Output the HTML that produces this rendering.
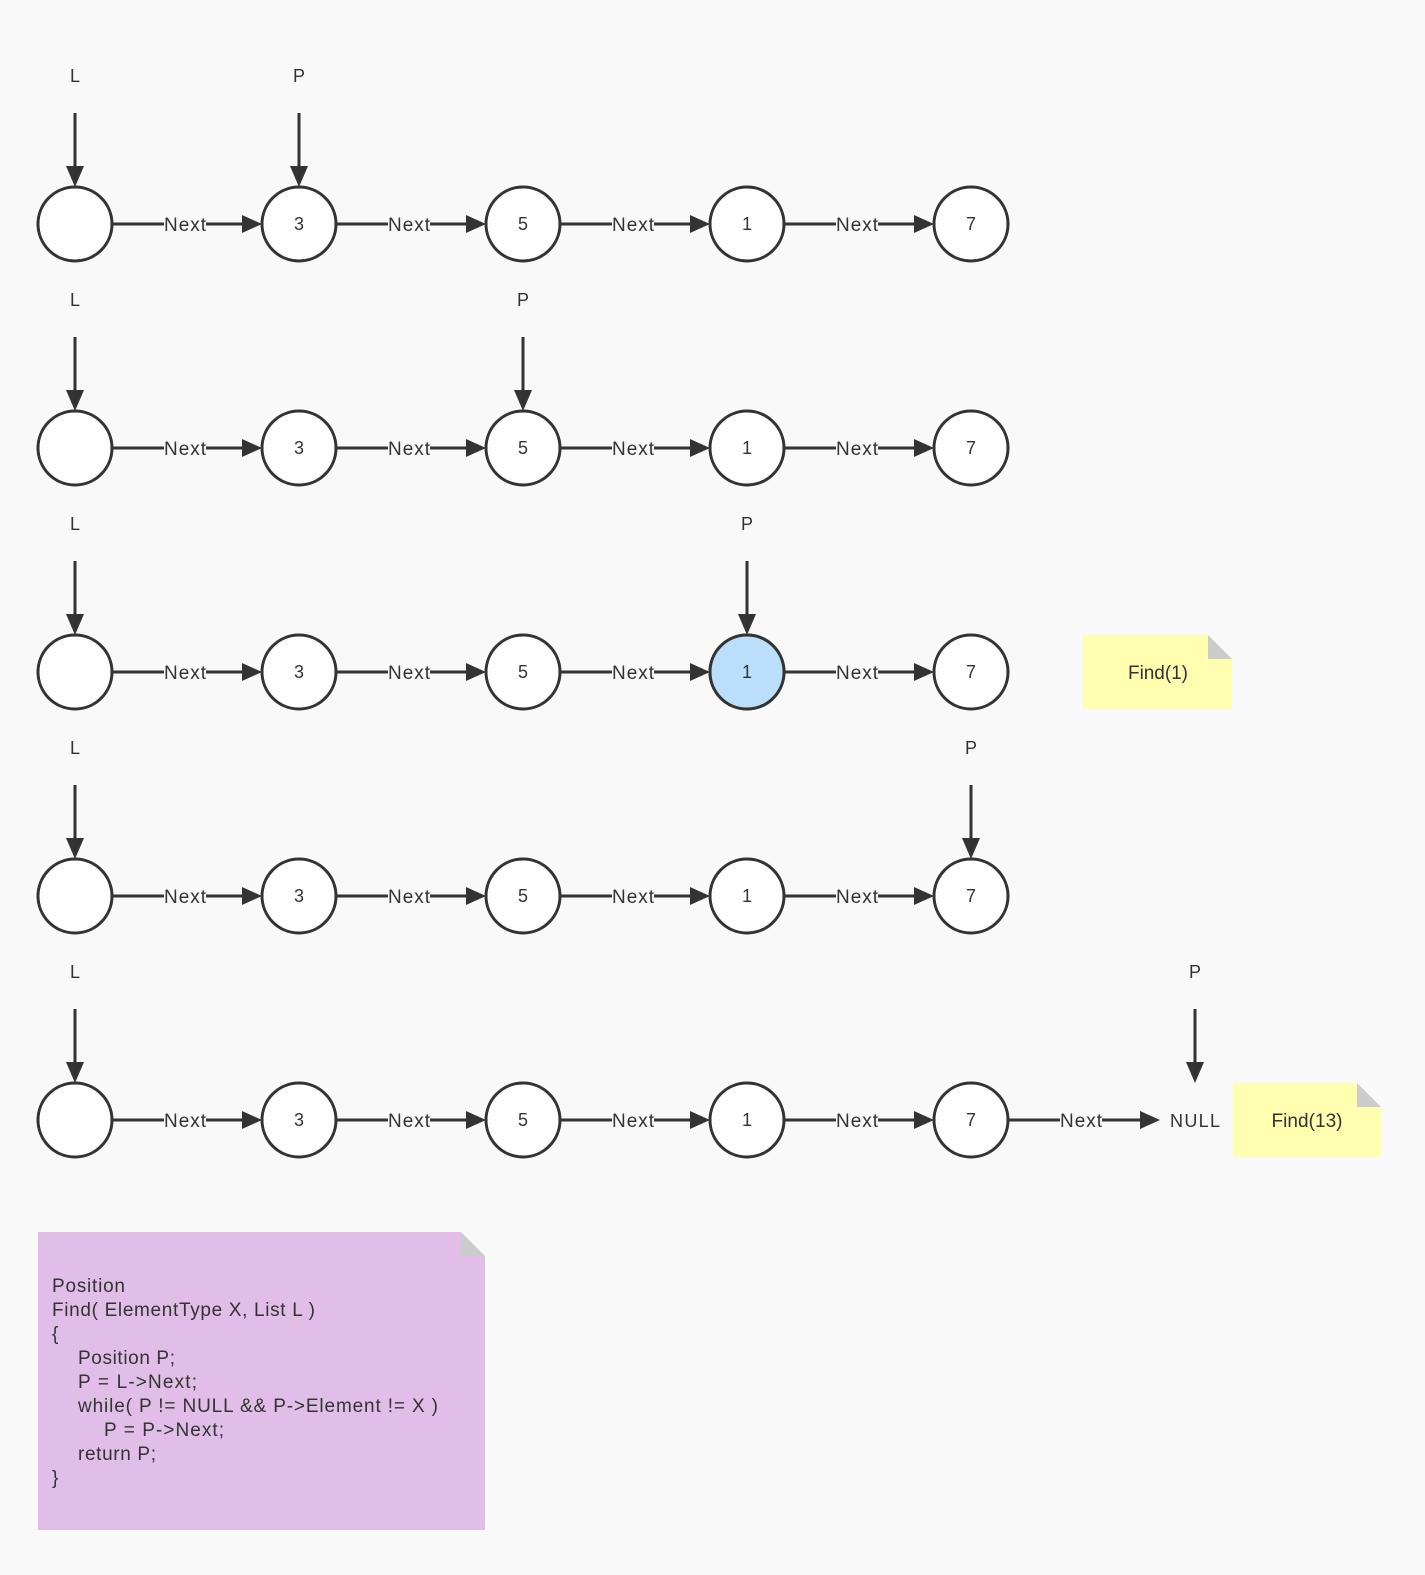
<!DOCTYPE html>
<html><head><meta charset="utf-8"><style>
html,body{margin:0;padding:0;background:#f9f9f9;}
svg{display:block;font-family:"Liberation Sans",sans-serif;}
</style></head><body>
<svg width="1425" height="1575" viewBox="0 0 1425 1575" xmlns="http://www.w3.org/2000/svg">
<defs>
<g id="row">
  <g stroke="#333" stroke-width="3" fill="none">
    <line x1="112" y1="0" x2="244" y2="0"/>
    <line x1="336" y1="0" x2="468" y2="0"/>
    <line x1="560" y1="0" x2="692" y2="0"/>
    <line x1="784" y1="0" x2="916" y2="0"/>
    <line x1="75" y1="-111" x2="75" y2="-58"/>
  </g>
  <g fill="#333">
    <polygon points="242,-9 262,0 242,9"/>
    <polygon points="466,-9 486,0 466,9"/>
    <polygon points="690,-9 710,0 690,9"/>
    <polygon points="914,-9 934,0 914,9"/>
    <polygon points="66,-58 75,-37 84,-58"/>
  </g>
  <g fill="#f9f9f9">
    <rect x="164" y="-10" width="42" height="20"/>
    <rect x="388" y="-10" width="42" height="20"/>
    <rect x="612" y="-10" width="42" height="20"/>
    <rect x="836" y="-10" width="42" height="20"/>
  </g>
  <g fill="#fff" stroke="#333" stroke-width="3">
    <circle cx="75" cy="0" r="37"/>
    <circle cx="299" cy="0" r="37"/>
    <circle cx="523" cy="0" r="37"/>
    <circle cx="747" cy="0" r="37"/>
    <circle cx="971" cy="0" r="37"/>
  </g>
</g>
<g id="parrow">
  <line x1="0" y1="-111" x2="0" y2="-58" stroke="#333" stroke-width="3"/>
  <polygon points="-9,-58 0,-37 9,-58" fill="#333"/>
</g>
</defs>

<use href="#row" y="224"/>
<use href="#row" y="448"/>
<use href="#row" y="672"/>
<use href="#row" y="896"/>
<use href="#row" y="1120"/>

<use href="#parrow" x="299" y="224"/>
<use href="#parrow" x="523" y="448"/>
<use href="#parrow" x="747" y="672"/>
<use href="#parrow" x="971" y="896"/>
<use href="#parrow" x="1195" y="1120"/>

<circle cx="747" cy="672" r="37" fill="#bbdefb" stroke="#333" stroke-width="3"/>

<line x1="1008" y1="1120" x2="1142" y2="1120" stroke="#333" stroke-width="3"/>
<polygon points="1140,1111 1160,1120 1140,1129" fill="#333"/>
<rect x="1060" y="1110" width="42" height="20" fill="#f9f9f9"/>

<g fill="#333" font-size="18" text-anchor="middle">
  <text x="75" y="82">L</text><text x="299" y="82">P</text>
  <text x="75" y="306">L</text><text x="523" y="306">P</text>
  <text x="75" y="530">L</text><text x="747" y="530">P</text>
  <text x="75" y="754">L</text><text x="971" y="754">P</text>
  <text x="75" y="978">L</text><text x="1195" y="978">P</text>
</g>

<g fill="#333" font-size="18" text-anchor="middle">
  <text x="299" y="230">3</text><text x="523" y="230">5</text><text x="747" y="230">1</text><text x="971" y="230">7</text>
  <text x="299" y="454">3</text><text x="523" y="454">5</text><text x="747" y="454">1</text><text x="971" y="454">7</text>
  <text x="299" y="678">3</text><text x="523" y="678">5</text><text x="747" y="678">1</text><text x="971" y="678">7</text>
  <text x="299" y="902">3</text><text x="523" y="902">5</text><text x="747" y="902">1</text><text x="971" y="902">7</text>
  <text x="299" y="1126">3</text><text x="523" y="1126">5</text><text x="747" y="1126">1</text><text x="971" y="1126">7</text>
  <text x="1195" y="1127" textLength="50">NULL</text>
</g>

<g fill="#333" font-size="19" text-anchor="middle">
  <text x="185" y="231" textLength="42">Next</text><text x="409" y="231" textLength="42">Next</text><text x="633" y="231" textLength="42">Next</text><text x="857" y="231" textLength="42">Next</text>
  <text x="185" y="455" textLength="42">Next</text><text x="409" y="455" textLength="42">Next</text><text x="633" y="455" textLength="42">Next</text><text x="857" y="455" textLength="42">Next</text>
  <text x="185" y="679" textLength="42">Next</text><text x="409" y="679" textLength="42">Next</text><text x="633" y="679" textLength="42">Next</text><text x="857" y="679" textLength="42">Next</text>
  <text x="185" y="903" textLength="42">Next</text><text x="409" y="903" textLength="42">Next</text><text x="633" y="903" textLength="42">Next</text><text x="857" y="903" textLength="42">Next</text>
  <text x="185" y="1127" textLength="42">Next</text><text x="409" y="1127" textLength="42">Next</text><text x="633" y="1127" textLength="42">Next</text><text x="857" y="1127" textLength="42">Next</text>
  <text x="1081" y="1127" textLength="42">Next</text>
</g>

<polygon points="1083,635 1208,635 1232,659 1232,709 1083,709" fill="#ffffaf"/>
<polygon points="1208,635 1232,659 1208,659" fill="#cccccc"/>
<text x="1158" y="679" font-size="19" fill="#333" text-anchor="middle" textLength="60">Find(1)</text>

<polygon points="1233,1083 1357,1083 1381,1107 1381,1157 1233,1157" fill="#ffffaf"/>
<polygon points="1357,1083 1381,1107 1357,1107" fill="#cccccc"/>
<text x="1307" y="1127" font-size="19" fill="#333" text-anchor="middle" textLength="71">Find(13)</text>

<polygon points="38,1232 461,1232 485,1256 485,1530 38,1530" fill="#e1bee7"/>
<polygon points="461,1232 485,1256 461,1256" fill="#cccccc"/>
<g fill="#333" font-size="19">
<text x="52" y="1292" textLength="73">Position</text>
<text x="52" y="1316" textLength="263">Find( ElementType X, List L )</text>
<text x="52" y="1340">{</text>
<text x="78" y="1364" textLength="97">Position P;</text>
<text x="78" y="1388" textLength="119">P = L-&gt;Next;</text>
<text x="78" y="1412" textLength="360">while( P != NULL &amp;&amp; P-&gt;Element != X )</text>
<text x="104" y="1436" textLength="120">P = P-&gt;Next;</text>
<text x="78" y="1460" textLength="78">return P;</text>
<text x="52" y="1484">}</text>
</g>
</svg>
</body></html>
